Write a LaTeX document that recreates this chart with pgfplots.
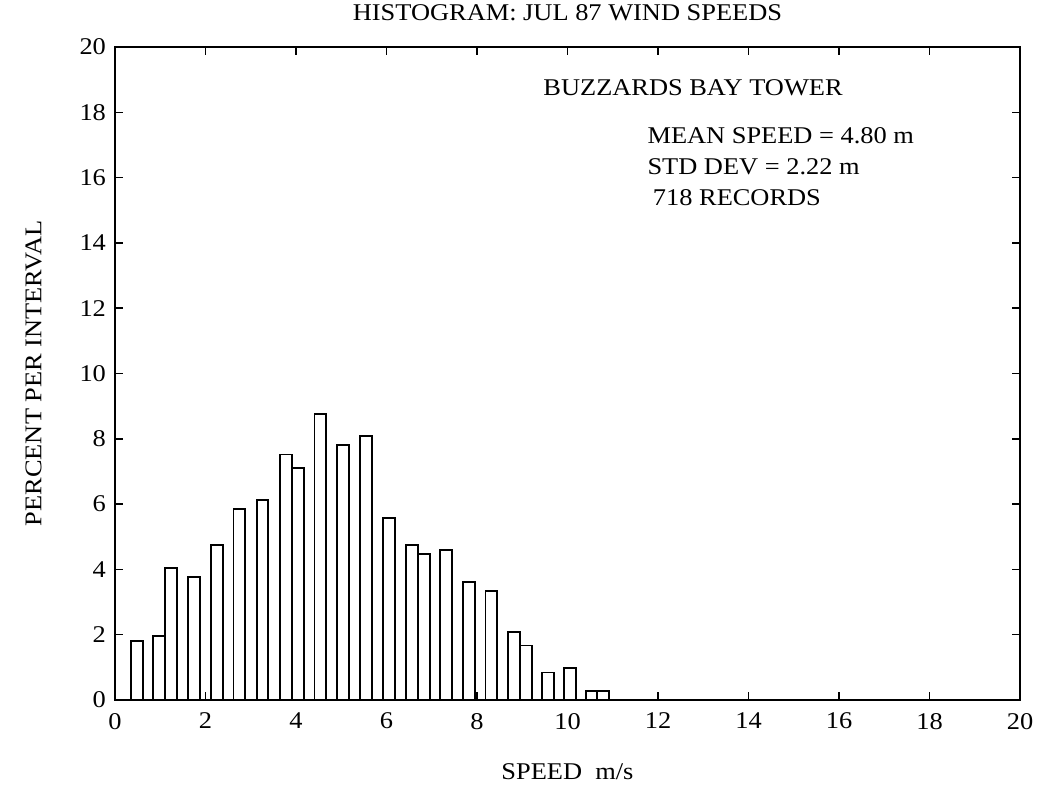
\documentclass[border=0pt]{standalone}
\usepackage{fontspec}
\setmainfont{Liberation Serif}[FakeStretch=1.1]
\usepackage{pgfplots}
\pgfplotsset{compat=1.18}

\begin{document}
\begin{tikzpicture}
\useasboundingbox (-57.5pt,-46.5pt) rectangle (462pt,350pt);
\begin{axis}[
    scale only axis,
    width=452.5pt, height=326.5pt,
    at={(0,0)}, anchor=south west,
    xmin=0, xmax=20,
    ymin=0, ymax=20,
    xtick={0,2,...,20},
    ytick={0,2,...,20},
    tick align=inside,
    major tick length=4pt,
    axis line style={line width=0.9pt},
    every tick/.style={black, line width=0.7pt},
    tick label style={font=\fontsize{12}{14}\selectfont},
    xticklabel style={yshift=-3pt},
    yticklabel style={xshift=-1pt},
    /pgf/number format/assume math mode=true,
    title={HISTOGRAM: JUL 87 WIND SPEEDS},
    title style={font=\fontsize{12}{14}\selectfont,
        at={(axis description cs:0.5,1)}, anchor=base, yshift=7pt},
    xlabel={SPEED\ \ m/s},
    xlabel style={font=\fontsize{12}{14}\selectfont,
        at={(axis description cs:0.5,0)}, anchor=center, yshift=-36pt},
    ylabel={PERCENT PER INTERVAL},
    ylabel style={font=\fontsize{12}{14}\selectfont,
        at={(axis description cs:-0.09,0.5)}, anchor=center},
    clip=false,
]
\addplot[ybar, bar width=0.26, fill=white, draw=black, line width=0.9pt]
    coordinates {
    (0.48,1.81)(0.97,1.95)(1.24,4.04)(1.74,3.76)(2.25,4.74)(2.75,5.85)
    (3.26,6.13)(3.78,7.52)(4.05,7.10)(4.54,8.77)(5.04,7.80)(5.55,8.08)
    (6.06,5.57)(6.56,4.74)(6.83,4.46)(7.32,4.60)(7.82,3.62)(8.32,3.34)
    (8.82,2.09)(9.08,1.67)(9.57,0.84)(10.06,0.97)(10.53,0.28)(10.79,0.28)
    };

\node[anchor=base west, font=\fontsize{12}{14}\selectfont, inner sep=0pt]
    at (axis cs:9.46,18.5) {BUZZARDS BAY TOWER};
\node[anchor=base west, font=\fontsize{12}{14}\selectfont, inner sep=0pt]
    at (axis cs:11.76,17.05) {MEAN SPEED = 4.80 m};
\node[anchor=base west, font=\fontsize{12}{14}\selectfont, inner sep=0pt]
    at (axis cs:11.76,16.1) {STD DEV = 2.22 m};
\node[anchor=base west, font=\fontsize{12}{14}\selectfont, inner sep=0pt]
    at (axis cs:11.88,15.15) {718 RECORDS};
\end{axis}
\end{tikzpicture}
\end{document}
